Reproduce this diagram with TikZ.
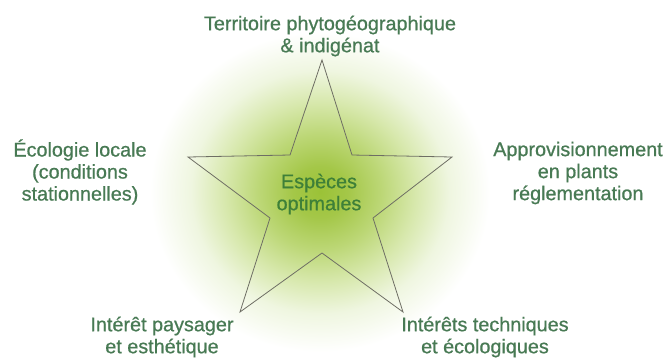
\documentclass[tikz,border=0pt]{standalone}
\usepackage{fontspec}
\setmainfont{Liberation Sans}
\newfontfamily\labelfont{Liberation Sans}[FakeBold=0.7]
\definecolor{labelgreen}{RGB}{72,122,84}
\definecolor{centergreen}{RGB}{62,128,56}
\definecolor{starline}{RGB}{110,110,100}
\definecolor{glowA}{RGB}{155,194,55}
\definecolor{glowB}{RGB}{164,199,72}
\definecolor{glowC}{RGB}{188,215,118}
\definecolor{glowD}{RGB}{215,232,172}
\definecolor{glowE}{RGB}{239,246,224}
\pgfdeclareradialshading{glow}{\pgfpoint{0bp}{0bp}}{%
  color(0bp)=(glowA); color(4bp)=(glowB); color(9bp)=(glowC);
  color(14bp)=(glowD); color(19bp)=(glowE); color(25bp)=(white); color(50bp)=(white)}
\tikzset{
  label/.style={inner sep=0pt, align=center, text=labelgreen,
    font=\labelfont\fontsize{19.8pt}{22pt}\selectfont},
  centerlabel/.style={label, text=centergreen},
  starshape/.style={draw=starline, line width=0.8pt, line join=miter}
}
\begin{document}
\begin{tikzpicture}[x=1pt,y=-1pt]
\useasboundingbox (0,0) rectangle (667,357);
\fill[white] (0,0) rectangle (667,357);
\begin{scope}
\clip (0,0) rectangle (667,357);
\shade[shading=glow] (320,192) ellipse [x radius=170, y radius=160];
\end{scope}
\draw[starshape] (322,60) -- (352,155) -- (452,157) -- (373,218) -- (403,312)
  -- (322,253) -- (240,312) -- (270,218) -- (188,157) -- (290,155) -- cycle;
\node[label] (top) at (330,36) {Territoire phytogéographique\\\& indigénat};
\node[label] (left) at (80,172) {Écologie locale\\(conditions\\stationnelles)};
\node[label] (right) at (578,173) {Approvisionnement\\en plants\\réglementation};
\node[label] (bl) at (162,337) {Intérêt paysager\\et esthétique};
\node[label] (br) at (485,337) {Intérêts techniques\\et écologiques};
\node[centerlabel] (mid) at (319,194) {Espèces\\optimales};
\end{tikzpicture}
\end{document}
